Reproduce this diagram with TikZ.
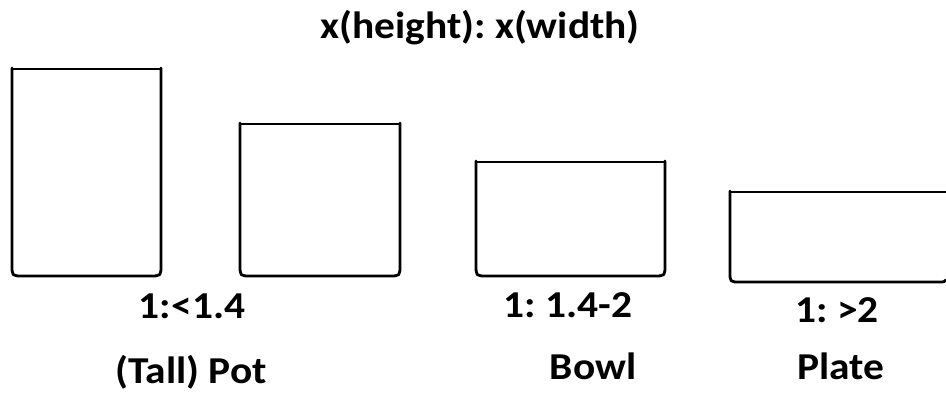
\documentclass[tikz,border=0pt]{standalone}
\usepackage{fontspec}
\usepackage{graphicx}
\setmainfont{Carlito}
\newcommand{\wtx}[1]{\scalebox{1.09}[1]{#1}}
\begin{document}
\frenchspacing
\begin{tikzpicture}[x=1pt,y=-1pt,
  lbl/.style={font=\bfseries\fontsize{38}{44}\selectfont, inner sep=0pt, anchor=base},
  vessel/.style={line width=2.8pt, line cap=round, line join=round},
  rim/.style={line width=2.2pt, line cap=round}]
\useasboundingbox (0,0) rectangle (946,399);
% vessels
\draw[vessel] (12,68) -- (12,265) .. controls (12,276) .. (23,276) -- (150,276) .. controls (161,276) .. (161,265) -- (161,68);
\draw[rim] (12,69) -- (161,69);
\draw[vessel] (240,123) -- (240,265) .. controls (240,276) .. (251,276) -- (389,276) .. controls (400,276) .. (400,265) -- (400,123);
\draw[rim] (240,124) -- (400,124);
\draw[vessel] (476,161) -- (476,265) .. controls (476,276) .. (487,276) -- (654,276) .. controls (665,276) .. (665,265) -- (665,161);
\draw[rim] (476,162) -- (665,162);
\draw[vessel] (730,191) -- (730,272) .. controls (730,282) .. (740,282) -- (940,282) .. controls (944,282) .. (946,280);
\draw[rim] (730,192) -- (946,192);
% texts
\node[lbl] (title) at (480,38) {\wtx{x(height): x(width)}};
\node[lbl] (r1) at (192,318) {\wtx{1:<1.4}};
\node[lbl] (r2) at (568,317) {\wtx{1: 1.4-2}};
\node[lbl] (r3) at (837,322) {\wtx{1: >2}};
\node[lbl] (n1) at (191,383) {\wtx{(Tall) Pot}};
\node[lbl] (n2) at (593,379) {\wtx{Bowl}};
\node[lbl] (n3) at (841,379) {\wtx{Plate}};
\end{tikzpicture}
\end{document}
